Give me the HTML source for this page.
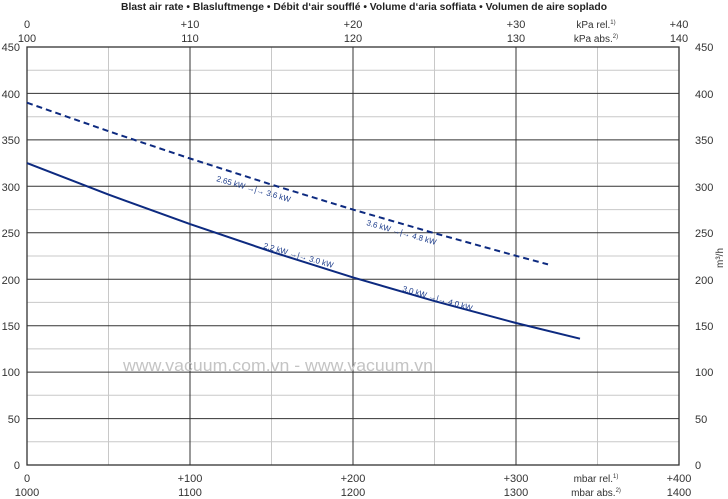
<!DOCTYPE html>
<html><head><meta charset="utf-8"><style>
html,body{margin:0;padding:0;background:#fff;}
svg{display:block;font-family:"Liberation Sans",sans-serif;}
</style></head><body>
<svg width="728" height="499" viewBox="0 0 728 499" xmlns="http://www.w3.org/2000/svg">
<text x="364" y="10" font-size="10.5" font-weight="bold" text-anchor="middle" fill="#222" textLength="486" lengthAdjust="spacingAndGlyphs">Blast air rate  •  Blasluftmenge  •  Débit d‘air soufflé  •  Volume d‘aria soffiata  •  Volumen de aire soplado</text>
<g font-size="11" fill="#333" text-anchor="middle">
<text x="27" y="28">0</text><text x="190" y="28">+10</text><text x="353" y="28">+20</text><text x="516" y="28">+30</text><text x="679" y="28">+40</text>
<text x="27" y="42">100</text><text x="190" y="42">110</text><text x="353" y="42">120</text><text x="516" y="42">130</text><text x="679" y="42">140</text>
<text x="596" y="28" font-size="10">kPa rel.<tspan font-size="6" dy="-4">1)</tspan></text>
<text x="596" y="42" font-size="10">kPa abs.<tspan font-size="6" dy="-4">2)</tspan></text>
<text x="27" y="482">0</text><text x="190" y="482">+100</text><text x="353" y="482">+200</text><text x="516" y="482">+300</text><text x="679" y="482">+400</text>
<text x="27" y="496">1000</text><text x="190" y="496">1100</text><text x="353" y="496">1200</text><text x="516" y="496">1300</text><text x="679" y="496">1400</text>
<text x="596" y="482" font-size="10">mbar rel.<tspan font-size="6" dy="-4">1)</tspan></text>
<text x="596" y="496" font-size="10">mbar abs.<tspan font-size="6" dy="-4">2)</tspan></text>
</g>
<g font-size="11" fill="#333">
<g text-anchor="end">
<text x="20" y="51">450</text><text x="20" y="98">400</text><text x="20" y="144">350</text><text x="20" y="191">300</text><text x="20" y="237">250</text><text x="20" y="284">200</text><text x="20" y="330">150</text><text x="20" y="376">100</text><text x="20" y="423">50</text><text x="20" y="469">0</text>
</g>
<g text-anchor="start">
<text x="695" y="51">450</text><text x="695" y="98">400</text><text x="695" y="144">350</text><text x="695" y="191">300</text><text x="695" y="237">250</text><text x="695" y="284">200</text><text x="695" y="330">150</text><text x="695" y="376">100</text><text x="695" y="423">50</text><text x="695" y="469">0</text>
</g>
<text x="0" y="0" font-size="10" transform="translate(723,268) rotate(-90)">m³/h</text>
</g>
<g stroke="#c8c8c8" stroke-width="1">
<line x1="108.5" y1="47" x2="108.5" y2="465"/><line x1="271.5" y1="47" x2="271.5" y2="465"/><line x1="434.5" y1="47" x2="434.5" y2="465"/><line x1="597.5" y1="47" x2="597.5" y2="465"/>
<line x1="27" y1="70.2" x2="679" y2="70.2"/><line x1="27" y1="116.7" x2="679" y2="116.7"/><line x1="27" y1="163.1" x2="679" y2="163.1"/><line x1="27" y1="209.6" x2="679" y2="209.6"/><line x1="27" y1="256" x2="679" y2="256"/><line x1="27" y1="302.4" x2="679" y2="302.4"/><line x1="27" y1="348.9" x2="679" y2="348.9"/><line x1="27" y1="395.3" x2="679" y2="395.3"/><line x1="27" y1="441.8" x2="679" y2="441.8"/>
</g>
<g stroke="#333" stroke-width="1">
<line x1="190" y1="47" x2="190" y2="465"/><line x1="353" y1="47" x2="353" y2="465"/><line x1="516" y1="47" x2="516" y2="465"/>
<line x1="27" y1="93.4" x2="679" y2="93.4"/><line x1="27" y1="139.9" x2="679" y2="139.9"/><line x1="27" y1="186.3" x2="679" y2="186.3"/><line x1="27" y1="232.8" x2="679" y2="232.8"/><line x1="27" y1="279.2" x2="679" y2="279.2"/><line x1="27" y1="325.7" x2="679" y2="325.7"/><line x1="27" y1="372.1" x2="679" y2="372.1"/><line x1="27" y1="418.6" x2="679" y2="418.6"/>
</g>
<rect x="27" y="47" width="652" height="418" fill="none" stroke="#333" stroke-width="1.3"/>
<text x="278" y="371" font-size="17" fill="#c4c4c4" text-anchor="middle" textLength="310" lengthAdjust="spacingAndGlyphs">www.vacuum.com.vn - www.vacuum.vn</text>
<polyline fill="none" stroke="#0d2a80" stroke-width="2" points="27,163.1 108.5,194.6 190,224.1 271.5,251.7 353,277.4 434.5,301.1 516,323 580,338.7"/>
<polyline fill="none" stroke="#0d2a80" stroke-width="2" stroke-dasharray="6,4" points="27,102.7 108.5,131.2 190,158.5 271.5,184.6 353,209.6 434.5,233.2 516,255.8 548,264.4"/>
<g font-size="8" fill="#1a3a8a">
<text transform="translate(216,181) rotate(16)">2.65 kW →|→ 3.6 kW</text>
<text transform="translate(366,225) rotate(16)">3.6 kW →|→ 4.8 kW</text>
<text transform="translate(263,248) rotate(16)">2.2 kW →|→ 3.0 kW</text>
<text transform="translate(402,291) rotate(16)">3.0 kW →|→ 4.0 kW</text>
</g>
</svg>
</body></html>
